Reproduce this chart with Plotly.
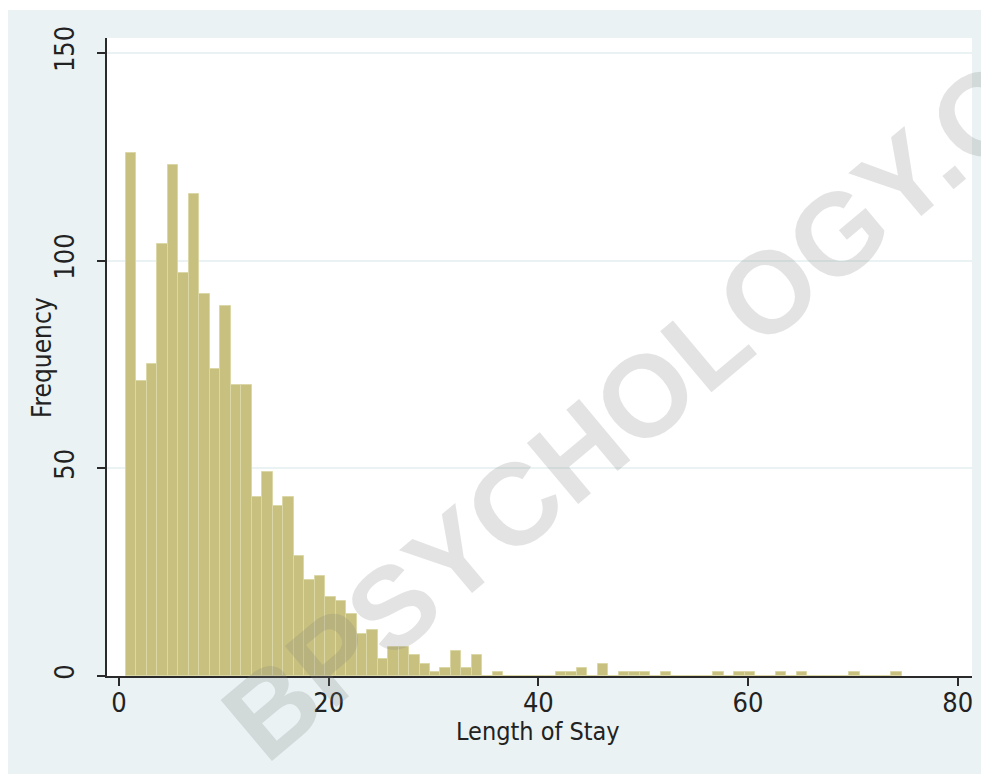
import plotly.graph_objects as go

# Length of stay (days) and observed frequency
length_of_stay = list(range(1, 75))
frequency = [126, 71, 75, 104, 123, 97, 116, 92, 74, 89,
             70, 70, 43, 49, 41, 43, 29, 23, 24, 19,
             18, 15, 10, 11, 4, 7, 7, 5, 3, 1,
             2, 6, 2, 5, 0, 1, 0, 0, 0, 0,
             0, 1, 1, 2, 0, 3, 0, 1, 1, 1,
             0, 1, 0, 0, 0, 0, 1, 0, 1, 1,
             0, 0, 1, 0, 1, 0, 0, 0, 0, 1,
             0, 0, 0, 1]
x_ticks = [0, 20, 40, 60, 80]
y_ticks = [0, 50, 100, 150]

OFF = 8  # page body margin
W, H = 989 - OFF, 774 - OFF
L, R, T, B = 107 - OFF, 972 - OFF, 38 - OFF, 676 - OFF  # plot area in figure pixels
pw, ph = R - L, B - T

def px(x):  # page x -> paper
    return (x - OFF - L) / pw

def py(y):  # page y -> paper
    return (B - (y - OFF)) / ph

FONT = "DejaVu Sans Condensed, Liberation Sans Narrow, Arial Narrow, Liberation Sans, Arial"
BG = "#EAF2F3"
TXT = "#222222"

fig = go.Figure()
fig.add_trace(go.Bar(
    x=length_of_stay, y=frequency, width=1, offset=-0.333,
    marker=dict(color="#C8C07E", line=dict(color="#DCD7A6", width=1)),
    hoverinfo="x+y", showlegend=False,
))

# outer light panel, then white plot region
fig.add_shape(type="rect", xref="paper", yref="paper",
              x0=px(7), x1=px(995), y0=py(780), y1=py(10),
              fillcolor=BG, line=dict(width=0), layer="below")
fig.add_shape(type="rect", xref="paper", yref="paper",
              x0=0, x1=1, y0=0, y1=1,
              fillcolor="white", line=dict(width=0), layer="below")

# axis titles
fig.add_annotation(text="Length of Stay", xref="paper", yref="paper",
                   x=px(538), y=py(731), xanchor="center", yanchor="middle",
                   showarrow=False, font=dict(family=FONT, size=25, color=TXT))
fig.add_annotation(text="Frequency", xref="paper", yref="paper",
                   x=px(42), y=py(358), xanchor="center", yanchor="middle",
                   textangle=-90, showarrow=False, font=dict(family=FONT, size=26, color=TXT))

# watermark
fig.add_annotation(
    text="BPSYCHOLOGY.O", xref="paper", yref="paper",
    x=px(628), y=py(410), xanchor="center", yanchor="middle",
    textangle=-40, showarrow=False,
    font=dict(family="Liberation Sans, Arial", size=116, color="rgba(126,126,126,0.22)", weight="bold"),
)

fig.update_layout(
    width=W, height=H,
    margin=dict(l=L, r=W - R, t=T, b=H - B, pad=0),
    paper_bgcolor="white", plot_bgcolor="white",
    bargap=0,
    font=dict(family=FONT, size=26, color=TXT),
    xaxis=dict(
        range=[-1.14, 81.36], tickvals=x_ticks, ticktext=[str(v) for v in x_ticks],
        showgrid=False, zeroline=False,
        showline=True, linecolor="#2a2a2a", linewidth=2,
        ticks="outside", ticklen=8, tickwidth=2, tickcolor="#2a2a2a",
        ticklabelstandoff=-6,
        tickfont=dict(family=FONT, size=27, color=TXT),
    ),
    yaxis=dict(
        range=[0, 153.6], tickvals=y_ticks, ticktext=[str(v) for v in y_ticks],
        showgrid=True, gridcolor=BG, gridwidth=1.5, zeroline=False,
        showline=True, linecolor="#2a2a2a", linewidth=2,
        ticks="outside", ticklen=8, tickwidth=2, tickcolor="#2a2a2a",
        tickangle=-90, ticklabelstandoff=12,
        tickfont=dict(family=FONT, size=27, color=TXT),
    ),
)

fig.write_html("out.html")
